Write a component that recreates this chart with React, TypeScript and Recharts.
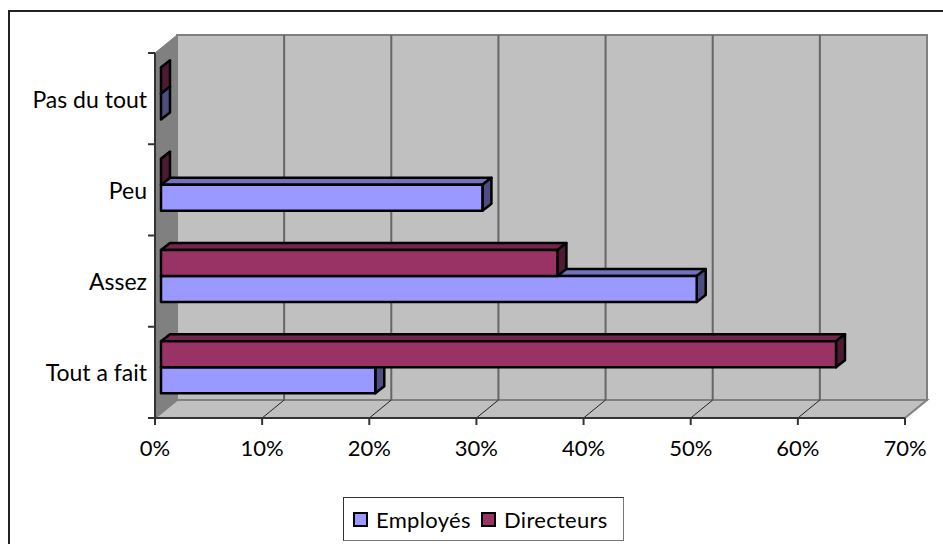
import React from 'react'
import { Bar, BarChart, XAxis, YAxis, usePlotArea } from 'recharts'

const categories = ['Tout a fait', 'Assez', 'Peu', 'Pas du tout']
const employes = [20, 50, 30, 0]
const directeurs = [63, 37, 0, 0]
const xTicks = [0, 10, 20, 30, 40, 50, 60, 70]

const data = categories.map((name, i) => ({
  name,
  Employés: employes[i],
  Directeurs: directeurs[i],
}))

const FONT = '"Comic Sans MS", Lato, "Open Sans", sans-serif'
const DEPTH_X = 22
const DEPTH_Y = 18
const BAR_DX = 9
const BAR_DY = 7

const EMPLOYES = { front: '#9999FF', top: '#7272BF', side: '#4D4D80' }
const DIRECTEURS = { front: '#993366', top: '#73264D', side: '#4D1A33' }

// side wall, floor and back wall of the fake 3d box
function Walls() {
  const plot = usePlotArea()
  if (!plot) return null
  const { x, y, width, height } = plot
  const bottom = y + height
  const right = x + width
  return (
    <g>
      <polygon
        points={`${x},${y} ${x + DEPTH_X},${y - DEPTH_Y} ${x + DEPTH_X},${bottom - DEPTH_Y} ${x},${bottom}`}
        fill="#808080"
        stroke="#808080"
      />
      <polygon
        points={`${x},${bottom} ${x + DEPTH_X},${bottom - DEPTH_Y} ${right + DEPTH_X},${bottom - DEPTH_Y} ${right},${bottom}`}
        fill="#C0C0C0"
        stroke="#808080"
        strokeWidth={2}
      />
      <rect
        x={x + DEPTH_X}
        y={y - DEPTH_Y}
        width={width}
        height={height}
        fill="#C0C0C0"
        stroke="#808080"
        strokeWidth={2}
      />
      {xTicks.slice(1).map((t) => {
        const px = x + (t / 70) * width
        return (
          <g key={t}>
            {t < 70 && (
              <line x1={px + DEPTH_X} y1={y - DEPTH_Y} x2={px + DEPTH_X} y2={bottom - DEPTH_Y} stroke="#666" strokeWidth={2} />
            )}
            <line x1={px} y1={bottom} x2={px + DEPTH_X} y2={bottom - DEPTH_Y} stroke={t < 70 ? '#222' : '#808080'} />
          </g>
        )
      })}
      {/* category ticks sit between the bands, not on the labels */}
      {[0, 1, 2, 3, 4].map((i) => {
        const py = y + (i / categories.length) * height
        return <line key={i} x1={x - 7} y1={py} x2={x} y2={py} stroke="#333" strokeWidth={2} />
      })}
    </g>
  )
}

function Prism(props: any) {
  const { x, y, width, height, colors, slot } = props
  const left = x + 6
  const top = y - 5.5 + slot * height
  const r = left + width
  const b = top + height
  return (
    <g stroke="#000" strokeWidth={2.5} strokeLinejoin="round">
      <polygon
        points={`${left},${top} ${left + BAR_DX},${top - BAR_DY} ${r + BAR_DX},${top - BAR_DY} ${r},${top}`}
        fill={width > 0 ? colors.top : 'none'}
      />
      <polygon
        points={`${r},${top} ${r + BAR_DX},${top - BAR_DY} ${r + BAR_DX},${b - BAR_DY} ${r},${b}`}
        fill={colors.side}
      />
      <rect x={left} y={top} width={width} height={height} fill={colors.front} />
    </g>
  )
}

function CategoryTick(props: any) {
  const { x, y, payload } = props
  return (
    <text x={x} y={y + 9} textAnchor="end" fontSize={23} fontFamily={FONT} fill="#000">
      {payload.value}
    </text>
  )
}

function LegendBox() {
  const items = [
    { name: 'Employés', color: EMPLOYES.front },
    { name: 'Directeurs', color: DIRECTEURS.front },
  ]
  return (
    <div
      style={{
        position: 'absolute',
        left: 343,
        top: 497,
        width: 281,
        height: 44,
        boxSizing: 'border-box',
        borderTop: '1px solid #333',
        borderLeft: '1px solid #333',
        borderRight: '1px solid #777',
        borderBottom: '1px solid #777',
        display: 'flex',
        alignItems: 'center',
        paddingLeft: 9,
        fontFamily: FONT,
        fontSize: 22,
        letterSpacing: 0.3,
        color: '#000',
        background: '#fff',
      }}
    >
      {items.map((it) => (
        <span key={it.name} style={{ display: 'flex', alignItems: 'center', width: 128, flex: 'none' }}>
          <span
            style={{
              width: 15,
              height: 15,
              boxSizing: 'border-box',
              border: '2px solid #000',
              background: it.color,
              marginRight: 8,
              display: 'inline-block',
              flex: 'none',
            }}
          />
          {it.name}
        </span>
      ))}
    </div>
  )
}

export default function App() {
  return (
    <div style={{ position: 'absolute', left: 0, top: 0, width: 943, height: 544, background: '#fff', overflow: 'hidden' }}>
      <div style={{ position: 'absolute', left: 8, top: 10, width: 935, height: 2, background: '#222' }} />
      <div style={{ position: 'absolute', left: 8, top: 10, width: 2, height: 534, background: '#222' }} />
      <BarChart
        layout="vertical"
        width={943}
        height={544}
        data={data}
        margin={{ top: 53, right: 38, bottom: 0, left: 0 }}
        barCategoryGap={20}
        barGap={0}
        style={{ position: 'absolute', left: 0, top: 0 }}
      >
        <Walls />
        <XAxis
          type="number"
          domain={[0, 70]}
          ticks={xTicks}
          interval={0}
          height={126}
          tickFormatter={(v) => `${v}%`}
          tick={{ fontSize: 22, fontFamily: FONT, fill: '#000' }}
          tickSize={7}
          tickMargin={15}
          stroke="#333"
          strokeWidth={2}
        />
        <YAxis
          type="category"
          dataKey="name"
          reversed
          width={155}
          interval={0}
          tick={<CategoryTick />}
          tickLine={false}
          tickSize={7}
          tickMargin={1}
          stroke="#333"
          strokeWidth={2}
        />
        {/* painted Employés first so the Directeurs bar covers its top face; the slots swap them back */}
        <Bar dataKey="Employés" isAnimationActive={false} fill={EMPLOYES.front} shape={<Prism colors={EMPLOYES} slot={1} />} />
        <Bar dataKey="Directeurs" isAnimationActive={false} fill={DIRECTEURS.front} shape={<Prism colors={DIRECTEURS} slot={-1} />} />
      </BarChart>
      <LegendBox />
    </div>
  )
}
